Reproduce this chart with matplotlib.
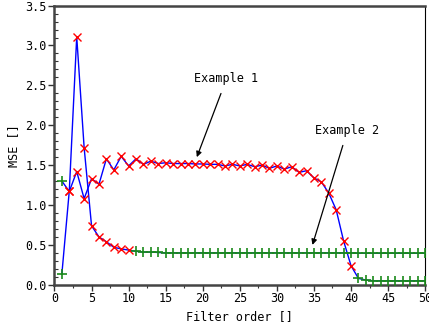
import numpy as np
import matplotlib
matplotlib.use("Agg")
import matplotlib.pyplot as plt
from matplotlib.ticker import MultipleLocator, FormatStrFormatter

plt.rcParams['font.family'] = ['DejaVu Sans Mono']

order = list(range(1, 51))

example1 = [1.30, 1.17, 1.42, 1.08, 1.33, 1.26, 1.58, 1.44, 1.61, 1.49,
            1.58, 1.51, 1.55, 1.52, 1.53, 1.52, 1.52, 1.52, 1.515, 1.515,
            1.51, 1.51, 1.49, 1.51, 1.49, 1.51, 1.48, 1.50, 1.46, 1.49,
            1.45, 1.48, 1.41, 1.43, 1.34, 1.29, 1.15, 0.94, 0.55, 0.24,
            0.08, 0.06, 0.05, 0.05, 0.05, 0.05, 0.05, 0.05, 0.05, 0.05]

example2 = [0.14, 1.18, 3.11, 1.72, 0.74, 0.60, 0.54, 0.47, 0.45, 0.435,
            0.42, 0.41, 0.41, 0.405, 0.40, 0.40, 0.40, 0.40, 0.40, 0.40,
            0.40, 0.40, 0.40, 0.40, 0.40, 0.40, 0.40, 0.40, 0.40, 0.40,
            0.40, 0.40, 0.40, 0.40, 0.40, 0.40, 0.40, 0.40, 0.40, 0.40,
            0.395, 0.395, 0.395, 0.395, 0.395, 0.395, 0.395, 0.395, 0.395, 0.395]

# index ranges (inclusive, 1-based order) marked with red x
red1 = (2, 40)
red2 = (2, 10)

fig = plt.figure(figsize=(4.29, 3.30), dpi=100)
ax = fig.add_axes([0.127, 0.137, 0.864, 0.846])

x = np.array(order)
for y, (r0, r1) in [(np.array(example1), red1), (np.array(example2), red2)]:
    ax.plot(x, y, color='blue', lw=1.0, zorder=2)
    red = (x >= r0) & (x <= r1)
    ax.plot(x[red], y[red], ls='none', marker='x', color='red', ms=5.5, mew=1.0, zorder=3)
    ax.plot(x[~red], y[~red], ls='none', marker='+', color='#1a8a1a', ms=6.5, mew=1.2, zorder=3)

ax.set_xlim(0, 50)
ax.set_ylim(0, 3.5)
ax.xaxis.set_major_locator(MultipleLocator(5))
ax.xaxis.set_minor_locator(MultipleLocator(2.5))
ax.yaxis.set_major_locator(MultipleLocator(0.5))
ax.yaxis.set_minor_locator(MultipleLocator(0.1))
ax.yaxis.set_major_formatter(FormatStrFormatter('%.1f'))

ax.tick_params(axis='both', which='major', direction='out', length=4, width=1.0,
               labelsize=8.5, pad=1.5, color='#333333')
ax.tick_params(axis='y', which='minor', direction='in', length=3, width=0.8, color='#333333')
ax.tick_params(axis='x', which='minor', direction='out', length=2, width=0.8, color='#333333')

for s in ['left', 'bottom', 'top']:
    ax.spines[s].set_linewidth(1.8)
    ax.spines[s].set_color('#444444')
ax.spines['right'].set_linewidth(0.8)
ax.spines['right'].set_color('black')

ax.set_xlabel('Filter order []', fontsize=8.5, labelpad=3)
ax.set_ylabel('MSE []', fontsize=8.5, labelpad=4)

arrow = dict(arrowstyle='-|>', color='black', lw=0.9, mutation_scale=8, shrinkA=4, shrinkB=0)
ax.annotate('Example 1', xy=(19.2, 1.60), xytext=(23.2, 2.58), fontsize=8.5,
            ha='center', va='center', arrowprops=arrow)
ax.annotate('Example 2', xy=(34.8, 0.50), xytext=(39.5, 1.93), fontsize=8.5,
            ha='center', va='center', arrowprops=arrow)
fig.savefig('out.png', dpi=100)
